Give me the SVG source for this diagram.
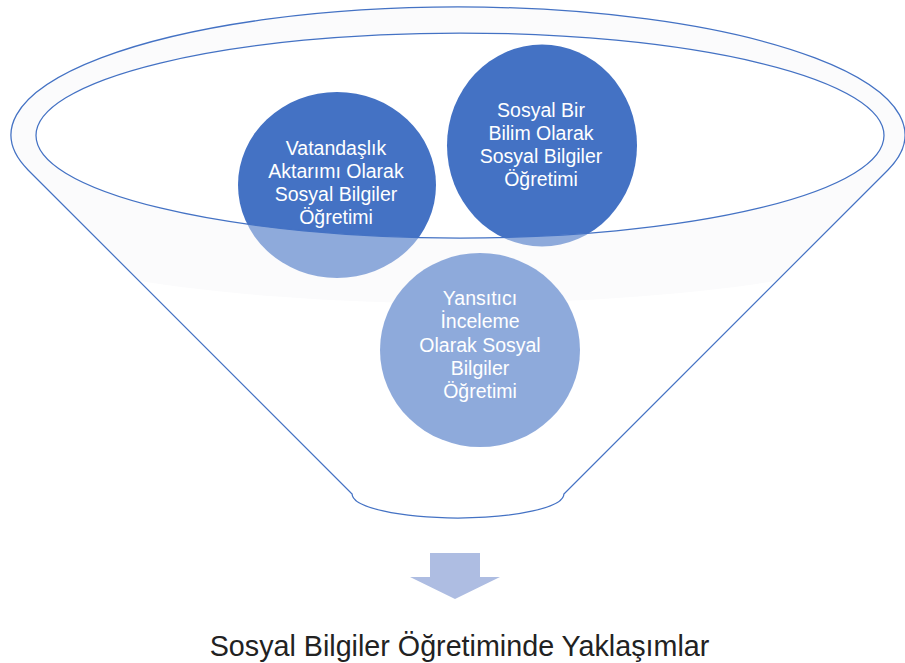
<svg xmlns="http://www.w3.org/2000/svg" width="905" height="663" viewBox="0 0 905 663">
  <defs>
    <style>
      .circ { fill: #4472c4; }
      .ctext { fill: #ffffff; font-family: "Liberation Sans", Arial, sans-serif; font-size: 19.5px; text-anchor: middle; }
      .outline { fill: none; stroke: #4472c4; stroke-width: 1.25; }
      .title { fill: #222222; font-family: "Liberation Sans", Arial, sans-serif; font-size: 28.7px; text-anchor: middle; }
    </style>
    <clipPath id="funnelClip">
      <path d="M 28.3 170.2 A 447 128 0 1 1 887.7 170.2 L 563.9 494 A 105.9 24 0 0 1 352.1 494 Z"/>
    </clipPath>
  </defs>
  <rect width="905" height="663" fill="#ffffff"/>

  <!-- faint rim / body shading -->
  <g id="funnel-shading" clip-path="url(#funnelClip)">
    <ellipse cx="458" cy="135" rx="447" ry="128" fill="#f8f8fa"/>
    <ellipse cx="458" cy="219" rx="470" ry="84" fill="#f8f8fa"/>
    <ellipse cx="460" cy="135.5" rx="424" ry="102.5" fill="#ffffff"/>
  </g>

  <g id="node-vatandaslik">
    <ellipse class="circ" cx="337" cy="185" rx="99" ry="93"/>
    <text class="ctext" x="336" y="155">Vatandaşlık</text>
    <text class="ctext" x="336" y="178">Aktarımı Olarak</text>
    <text class="ctext" x="336" y="201">Sosyal Bilgiler</text>
    <text class="ctext" x="336" y="224">Öğretimi</text>
  </g>

  <g id="node-sosyal-bilim">
    <ellipse class="circ" cx="542" cy="145.5" rx="95" ry="101"/>
    <text class="ctext" x="541" y="116.7">Sosyal Bir</text>
    <text class="ctext" x="541" y="139.5">Bilim Olarak</text>
    <text class="ctext" x="541" y="162.5">Sosyal Bilgiler</text>
    <text class="ctext" x="541" y="185.5">Öğretimi</text>
  </g>

  <g id="node-yansitici">
    <ellipse class="circ" cx="480" cy="350" rx="100" ry="97"/>
    <text class="ctext" x="480" y="305">Yansıtıcı</text>
    <text class="ctext" x="480" y="328.3">İnceleme</text>
    <text class="ctext" x="480" y="351.6">Olarak Sosyal</text>
    <text class="ctext" x="480" y="375">Bilgiler</text>
    <text class="ctext" x="480" y="398.3">Öğretimi</text>
  </g>

  <!-- translucent front face of funnel -->
  <g id="funnel-front">
    <path fill="#ffffff" fill-opacity="0.4" fill-rule="evenodd" clip-path="url(#funnelClip)"
      d="M 0 0 H 905 V 663 H 0 Z M 36 135.5 A 424 102.5 0 1 0 884 135.5 A 424 102.5 0 1 0 36 135.5 Z"/>
  </g>

  <g id="funnel">
    <path class="outline" d="M 28.3 170.2 A 447 128 0 1 1 887.7 170.2 L 563.9 494 A 105.9 24 0 0 1 352.1 494 Z"/>
    <ellipse class="outline" cx="460" cy="135.5" rx="424" ry="102.5"/>
  </g>

  <g id="connectors">
    <path id="arrow-down" d="M 430 553 H 480 V 577 H 500 L 455 599 L 410 577 H 430 Z" fill="#aebde2"/>
  </g>

  <g id="node-title">
    <text class="title" x="459.5" y="655.7">Sosyal Bilgiler Öğretiminde Yaklaşımlar</text>
  </g>
</svg>
